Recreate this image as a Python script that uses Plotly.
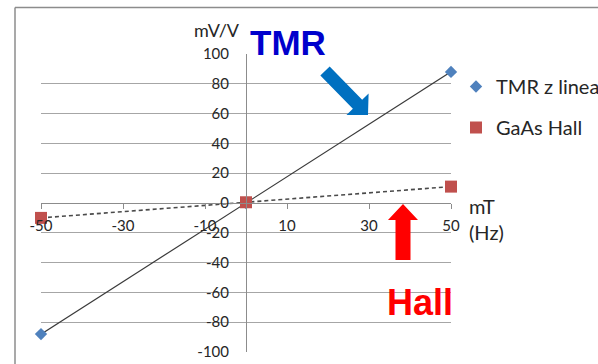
import math
import plotly.graph_objects as go

# Field sweep (mT) and sensor outputs (mV/V)
field_mT = [-50, 0, 50]
tmr_out = [-88, 0, 88]
hall_out = [-10, 0.5, 11]

x_ticks = [-50, -30, -10, 10, 30, 50]
y_ticks = [-100, -80, -60, -40, -20, 0, 20, 40, 60, 80, 100]

W, H = 598, 364
L, T, PW, PH = 41, 54, 410, 298  # plot box in pixels


def px(x, y):
    return ((x - L) / PW, (T + PH - y) / PH)


def arrow_path(tail, tip, shaft_w, head_w, head_l):
    dx, dy = tip[0] - tail[0], tip[1] - tail[1]
    n = math.hypot(dx, dy)
    ux, uy = dx / n, dy / n
    nx, ny = -uy, ux
    bx, by = tip[0] - ux * head_l, tip[1] - uy * head_l
    pts = [
        (tail[0] + nx * shaft_w / 2, tail[1] + ny * shaft_w / 2),
        (bx + nx * shaft_w / 2, by + ny * shaft_w / 2),
        (bx + nx * head_w / 2, by + ny * head_w / 2),
        tip,
        (bx - nx * head_w / 2, by - ny * head_w / 2),
        (bx - nx * shaft_w / 2, by - ny * shaft_w / 2),
        (tail[0] - nx * shaft_w / 2, tail[1] - ny * shaft_w / 2),
    ]
    pp = [px(*p) for p in pts]
    return "M " + " L ".join(f"{a:.5f},{b:.5f}" for a, b in pp) + " Z"


fig = go.Figure()

# connecting lines
fig.add_trace(go.Scatter(x=field_mT, y=tmr_out, mode="lines",
                         line=dict(color="#3a3a3a", width=1.2),
                         showlegend=False, hoverinfo="skip", cliponaxis=False))
fig.add_trace(go.Scatter(x=field_mT, y=hall_out, mode="lines",
                         line=dict(color="#4a4a4a", width=1.6, dash="4px,3px"),
                         showlegend=False, hoverinfo="skip", cliponaxis=False))
# markers
fig.add_trace(go.Scatter(x=field_mT, y=tmr_out, mode="markers", name="TMR z linea",
                         legendgroup="a", cliponaxis=False,
                         marker=dict(symbol="diamond", size=9.5, color="#4F81BD")))
fig.add_trace(go.Scatter(x=field_mT, y=hall_out, mode="markers", name="GaAs Hall",
                         legendgroup="b", cliponaxis=False,
                         marker=dict(symbol="square", size=12, color="#C0504D")))

tick_font = dict(family="Lato, Carlito, sans-serif", size=15, color="#262626")
big_font = dict(family="Lato, Carlito, sans-serif", size=20, color="#262626")

fig.update_xaxes(range=[-50, 50], anchor="free", position=0.5,
                 showline=True, linecolor="#8c8c8c", linewidth=1,
                 showgrid=False, zeroline=False,
                 tickmode="array", tickvals=x_ticks, ticktext=[str(v) for v in x_ticks],
                 ticks="outside", ticklen=5, tickcolor="#8c8c8c",
                 ticklabelstandoff=4, tickfont=tick_font)
fig.update_yaxes(range=[-100, 100], anchor="free", position=0.5,
                 showline=True, linecolor="#8c8c8c", linewidth=1,
                 showgrid=True, gridcolor="#a6a6a6", gridwidth=1, zeroline=False,
                 tickmode="array", tickvals=y_ticks, ticktext=[str(v) for v in y_ticks],
                 ticks="", ticklabelstandoff=14, tickfont=tick_font)

shapes = [
    # outer frame of the chart
    dict(type="line", xref="paper", yref="paper",
         x0=px(15, 0)[0], x1=px(15, 0)[0], y0=px(0, 7.5)[1], y1=px(0, 400)[1],
         line=dict(color="#8c8c8c", width=1.5)),
    dict(type="line", xref="paper", yref="paper",
         x0=px(15, 0)[0], x1=px(700, 0)[0], y0=px(0, 7.5)[1], y1=px(0, 7.5)[1],
         line=dict(color="#8c8c8c", width=1.5)),
    # highlight arrows
    dict(type="path", xref="paper", yref="paper",
         path=arrow_path((325, 71), (368, 115), 13, 31, 15),
         fillcolor="#0070C0", line=dict(width=0)),
    dict(type="path", xref="paper", yref="paper",
         path=arrow_path((403, 260), (403, 204), 15, 30, 16),
         fillcolor="#FF0000", line=dict(width=0)),
]

annotations = [
    dict(text="mV/V", x=px(217, 0)[0], y=px(0, 30)[1], font=dict(family="Lato, sans-serif", size=18, color="#262626")),
    dict(text="<b>TMR</b>", x=px(288, 0)[0], y=px(0, 42)[1],
         font=dict(family="Liberation Sans, Arial, sans-serif", size=35, color="#0000CC")),
    dict(text="<b>Hall</b>", x=px(420, 0)[0], y=px(0, 302)[1],
         font=dict(family="Liberation Sans, Arial, sans-serif", size=36, color="#FF0000")),
    dict(text="mT", x=px(467, 0)[0], y=px(0, 206)[1], xanchor="left", font=big_font),
    dict(text="(Hz)", x=px(467, 0)[0], y=px(0, 232)[1], xanchor="left", font=big_font),
]
for a in annotations:
    a.setdefault("xanchor", "center")
    a.update(xref="paper", yref="paper", yanchor="middle", showarrow=False)

fig.update_layout(
    width=W, height=H,
    margin=dict(l=L, r=W - L - PW, t=T, b=H - T - PH, autoexpand=False),
    paper_bgcolor="white", plot_bgcolor="white",
    shapes=shapes, annotations=annotations,
    legend=dict(x=px(456, 0)[0], y=px(0, 67)[1], xanchor="left", yanchor="top",
                bgcolor="rgba(0,0,0,0)", font=big_font, tracegroupgap=12,
                itemwidth=30),
)

fig.write_html("out.html")
